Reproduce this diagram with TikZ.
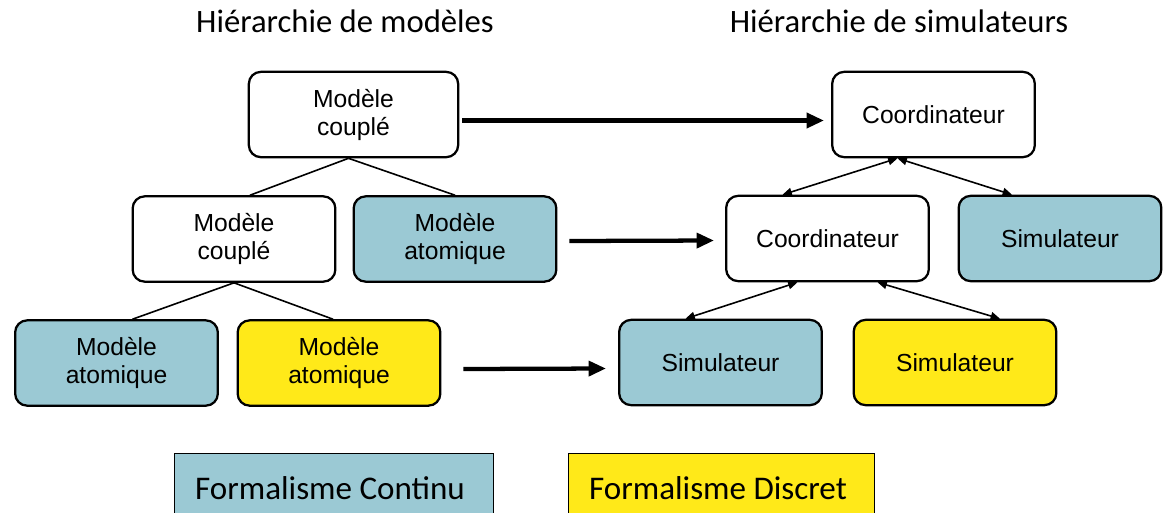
\documentclass[tikz,border=0pt]{standalone}
\usepackage{fontspec}
\setmainfont{Liberation Sans}
\newfontfamily\calib{Carlito}
\usetikzlibrary{arrows.meta,calc}
\definecolor{cblue}{RGB}{155,201,212}
\definecolor{cyellow}{RGB}{255,233,25}
\tikzset{
  box/.style={draw=black, line width=1.7pt, rounded corners=9pt, minimum width=152pt, minimum height=64pt, align=center, font=\fontsize{18.5}{21}\selectfont, inner sep=2pt},
  boxblue/.style={box, fill=cblue},
  boxyellow/.style={box, fill=cyellow},
  boxwhite/.style={box, fill=white},
  bigarrow/.style={line width=3.2pt, -{Triangle[length=13pt,width=11pt]}},
  tline/.style={line width=1.2pt},
  darrow/.style={line width=1.2pt, {Triangle[length=7pt,width=6pt]}-{Triangle[length=7pt,width=6pt]}},
  title/.style={font=\calib\fontsize{24.5}{28}\selectfont},
  legend/.style={draw=black, line width=0.8pt, minimum height=60pt, anchor=north west, inner sep=0pt},
  legendtext/.style={font=\calib\fontsize{24.8}{28}\selectfont}
}
\begin{document}
\begin{tikzpicture}[x=0.75pt,y=-0.75pt]
\useasboundingbox (0,0) rectangle (1167,512);
\clip (0,0) rectangle (1167,512);
% titles
\node[title] (t1) at (345,21) {Hiérarchie de modèles};
\node[title] (t2) at (899,21) {Hiérarchie de simulateurs};
% left hierarchy
\node[boxwhite, minimum width=157pt] (mc1) at (353.5,114.5) {Modèle\\couplé};
\node[boxwhite] (mc2) at (234,239) {Modèle\\couplé};
\node[boxblue] (ma1) at (455,239) {Modèle\\atomique};
\node[boxblue] (ma2) at (116.5,363) {Modèle\\atomique};
\node[boxyellow] (ma3) at (339,363) {Modèle\\atomique};
% right hierarchy
\node[boxwhite] (co1) at (933.5,114.5) {Coordinateur};
\node[boxwhite] (co2) at (827.5,238.5) {Coordinateur};
\node[boxblue] (si1) at (1060,238.5) {Simulateur};
\node[boxblue] (si2) at (720.5,362.5) {Simulateur};
\node[boxyellow] (si3) at (955,362.5) {Simulateur};
% tree lines
\draw[tline] ($(mc1.south)+(-5,0)$) -- ($(mc2.north)+(16,0)$);
\draw[tline] ($(mc1.south)+(-5,0)$) -- (ma1.north);
\draw[tline] (mc2.south) -- ($(ma2.north)+(16,0)$);
\draw[tline] (mc2.south) -- ($(ma3.north)+(-6,0)$);
% double arrows
\draw[darrow] ($(co1.south)+(-36,0)$) -- ($(co2.north)+(-45,0)$);
\draw[darrow] ($(co1.south)+(-36,0)$) -- ($(si1.north)+(-48,0)$);
\draw[darrow] ($(co2.south)+(-30,0)$) -- ($(si2.north)+(-35,0)$);
\draw[darrow] ($(co2.south)+(50,0)$) -- ($(si3.north)+(45,0)$);
% big arrows
\draw[bigarrow] ($(mc1.east)+(3,6)$) -- ($(co1.west)+(-7,6)$);
\draw[bigarrow] ($(ma1.east)+(12,2)$) -- ($(co2.west)+(-11,2)$);
\draw[bigarrow] ($(ma3.east)+(22,6)$) -- ($(si2.west)+(-12,6)$);
% legend
\node[legend, fill=cblue, minimum width=239pt] (l1) at (174,453) {};
\node[legendtext] (l1t) at (330,488) {Formalisme Continu};
\node[legend, fill=cyellow, minimum width=229.5pt] (l2) at (568,453) {};
\node[legendtext] (l2t) at (718,488) {Formalisme Discret};
\end{tikzpicture}
\end{document}
